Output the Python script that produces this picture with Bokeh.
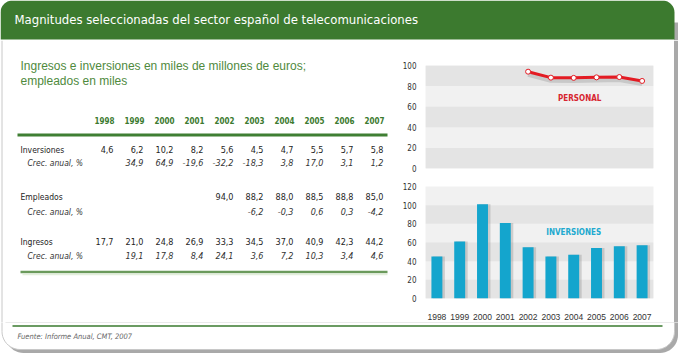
import numpy as np
from bokeh.plotting import figure
from bokeh.layouts import column, row
from bokeh.models import Range1d, FactorRange, ColumnDataSource, BoxAnnotation, FixedTicker
from bokeh.core.properties import value
from bokeh.transform import dodge
from bokeh.embed import file_html
from bokeh.resources import INLINE

# ---------------- data ----------------
years = ["1998", "1999", "2000", "2001", "2002", "2003", "2004", "2005", "2006", "2007"]
inversiones = [4.6, 6.2, 10.2, 8.2, 5.6, 4.5, 4.7, 5.5, 5.7, 5.8]
inversiones_crec = [None, 34.9, 64.9, -19.6, -32.2, -18.3, 3.8, 17.0, 3.1, 1.2]
empleados = [None, None, None, None, 94.0, 88.2, 88.0, 88.5, 88.8, 85.0]
empleados_crec = [None, None, None, None, None, -6.2, -0.3, 0.6, 0.3, -4.2]
ingresos = [17.7, 21.0, 24.8, 26.9, 33.3, 34.5, 37.0, 40.9, 42.3, 44.2]
ingresos_crec = [None, 19.1, 17.8, 8.4, 24.1, 3.6, 7.2, 10.3, 3.4, 4.6]

personal_years = ["2002", "2003", "2004", "2005", "2006", "2007"]
personal = [94.0, 88.2, 88.0, 88.5, 88.8, 85.0]
inversiones_chart = [45, 61, 101, 81, 55, 45, 47, 54, 56, 57]
personal_ticks = [0, 20, 40, 60, 80, 100]
inversiones_ticks = [0, 20, 40, 60, 80, 100, 120]

title_text = "Magnitudes seleccionadas del sector español de telecomunicaciones"
subtitle_lines = ["Ingresos e inversiones en miles de millones de euros;", "empleados en miles"]
row_labels = ["Inversiones", "Crec. anual, %", "Empleados", "Crec. anual, %", "Ingresos", "Crec. anual, %"]
row_values = [inversiones, inversiones_crec, empleados, empleados_crec, ingresos, ingresos_crec]
source_text = "Fuente: Informe Anual, CMT, 2007"

# ---------------- styles ----------------
NARROW = "DejaVu Sans Condensed, DejaVu Sans, sans-serif"
REG = "Liberation Sans, Arial, sans-serif"
GREEN = "#3c7a2f"
SHADOW = "#a9a9a9"


def fmt(v):
    return "" if v is None else f"{v:.1f}".replace(".", ",")


def canvas(x0, x1, y0, y1):
    p = figure(width=x1 - x0, height=y1 - y0, x_range=Range1d(x0, x1), y_range=Range1d(y1, y0),
               output_backend="svg", toolbar_location=None, min_border=0,
               x_axis_location=None, y_axis_location=None)
    p.grid.visible = False
    p.outline_line_color = None
    p.background_fill_color = "white"
    p.border_fill_color = "white"
    return p


def arc(cx, cy, r, a0, a1, n=12):
    t = np.radians(np.linspace(a0, a1, n))
    return list(cx + r * np.cos(t)), list(cy + r * np.sin(t))


# ---------------- title ----------------
title = canvas(0, 680, 0, 40)
title.quad(left=[673.5], right=[677.5], top=[22], bottom=[40], fill_color=SHADOW, line_color=None)
r = 12
ax1, ay1 = arc(0 + r, 0 + r, r, 180, 270)
ax2, ay2 = arc(674 - r, 0 + r, r, 270, 360)
title.patch(x=[0] + ax1 + ax2 + [674], y=[39] + ay1 + ay2 + [39], fill_color=GREEN, line_color=None)
title.text(x=[14], y=[19], text=[title_text], text_font=value(NARROW), text_font_size="13px",
           text_color="white", text_baseline="middle")

# ---------------- table ----------------
table = canvas(0, 396, 40, 322)
table.segment(x0=[1.5], x1=[1.5], y0=[40], y1=[322], line_color="#c8c8c8", line_width=1)
table.text(x=[20, 20], y=[65, 80], text=subtitle_lines, text_font=value(REG), text_font_size="12px",
           text_color="#4f8a3d", text_baseline="middle")
col_c = [104 + 30 * i for i in range(len(years))]
table.text(x=col_c, y=[120] * len(years), text=years, text_font=value(NARROW), text_font_size="8px",
           text_font_style="bold", text_color=GREEN, text_align="center", text_baseline="middle")
table.segment(x0=[17], x1=[387], y0=[134.5], y1=[134.5], line_color="#3f7f33", line_width=3)
row_y = [149, 162, 196, 211, 241, 255]
for k, (lab, vals) in enumerate(zip(row_labels, row_values)):
    italic = lab.startswith("Crec")
    table.text(x=[27 if italic else 20], y=[row_y[k]], text=[lab], text_font=value(NARROW),
               text_font_size="8.5px", text_font_style="italic" if italic else "normal",
               text_color="#333333" if italic else "#1e1e1e", text_baseline="middle")
    src = ColumnDataSource(dict(x=[c + 9 for c in col_c], y=[row_y[k]] * len(vals),
                                t=[fmt(v) for v in vals]))
    table.text(x="x", y="y", text="t", source=src, text_font=value(NARROW), text_font_size="9px",
               text_font_style="italic" if italic else "normal",
               text_color="#333333" if italic else "#1e1e1e", text_align="right", text_baseline="middle")
table.segment(x0=[20], x1=[387], y0=[271.5], y1=[271.5], line_color="#6b9a5c", line_width=2.5)
table.segment(x0=[22], x1=[387], y0=[274], y1=[274], line_color="#e3efdc", line_width=1.5)


# ---------------- charts ----------------
def chart(height, top, ticks, b_top, b_bottom, show_x):
    p = figure(width=276, height=height, x_range=FactorRange(*years), y_range=Range1d(0, top),
               output_backend="svg", toolbar_location=None,
               min_border_left=29, min_border_right=19, min_border_top=b_top, min_border_bottom=b_bottom,
               x_axis_location="below" if show_x else None, y_axis_location="left")
    p.outline_line_color = None
    p.grid.visible = False
    p.background_fill_color = "#f1f1f1"
    p.border_fill_color = "white"
    for i in range(len(ticks) - 1):
        if i % 2 == 0:
            p.add_layout(BoxAnnotation(bottom=ticks[i], top=ticks[i + 1], fill_color="#e4e4e4",
                                       fill_alpha=1, line_color=None, level="underlay"))
    ax = p.yaxis[0]
    ax.ticker = FixedTicker(ticks=ticks)
    ax.axis_line_color = None
    ax.major_tick_line_color = None
    ax.minor_tick_line_color = None
    ax.major_label_standoff = 3
    ax.major_label_text_font = NARROW
    ax.major_label_text_font_size = "8px"
    ax.major_label_text_color = "#333333"
    if show_x:
        xa = p.xaxis[0]
        xa.axis_line_color = None
        xa.major_tick_line_color = None
        xa.minor_tick_line_color = None
        xa.major_label_standoff = 9
        xa.major_label_text_font = REG
        xa.major_label_text_font_size = "8.5px"
        xa.major_label_text_color = "#333333"
    return p


top = chart(133, 100, personal_ticks, 25, 5, False)
psrc = ColumnDataSource(dict(x=personal_years, y=personal))
top.line(x="x", y=dodge("y", -2.5, range=top.y_range), source=psrc, line_color="black",
         line_alpha=0.12, line_width=5)
top.line(x="x", y="y", source=psrc, line_color="#e31b23", line_width=3)
top.scatter(x="x", y="y", source=psrc, size=5, fill_color="white", line_color="#e31b23", line_width=1)
top.text(x=["2004"], y=[68], text=["PERSONAL"], x_offset=6, text_font=value(NARROW),
         text_font_size="8px", text_font_style="bold", text_color="#d7252f",
         text_align="center", text_baseline="middle")

divider = canvas(396, 672, 173, 179)
divider.segment(x0=[408], x1=[653], y0=[175.5], y1=[175.5], line_color="#6f9a60",
                line_width=1, line_dash="1 2")

bottom = chart(143, 120, inversiones_ticks, 7, 21, True)
bsrc = ColumnDataSource(dict(x=years, y=inversiones_chart))
bottom.vbar(x=dodge("x", 0.09, range=bottom.x_range), top="y", source=bsrc, width=0.52,
            fill_color="#8c8c8c", fill_alpha=0.35, line_color=None)
bottom.vbar(x="x", top="y", source=bsrc, width=0.48, fill_color="#14a5cd", line_color=None)
bottom.text(x=["2004"], y=[71], text=["INVERSIONES"], text_font=value(NARROW),
            text_font_size="8px", text_font_style="bold", text_color="#21a9cf",
            text_align="center", text_baseline="middle")

# right shadow strip
shadow = canvas(672, 680, 40, 322)
shadow.quad(left=[673.5], right=[677.5], top=[40], bottom=[322], fill_color=SHADOW, line_color=None)

# ---------------- footer ----------------
footer = canvas(0, 680, 322, 355)
rr = 18


def card_bottom(x0, x1, y1, dx=0.0, dy=0.0):
    bx1, by1 = arc(x1 - rr + dx, y1 - rr + dy, rr, 0, 90)
    bx2, by2 = arc(x0 + rr + dx, y1 - rr + dy, rr, 90, 180)
    return [x1 + dx] + bx1 + bx2 + [x0 + dx], [300] + by1 + by2 + [300]


sx, sy = card_bottom(1.5, 674, 349, 3.5, 3.5)
footer.patch(x=sx, y=sy, fill_color=SHADOW, line_color=None)
cx, cy = card_bottom(1.5, 674, 349)
footer.patch(x=cx, y=cy, fill_color="white", line_color="#c8c8c8", line_width=1)
footer.segment(x0=[12], x1=[662], y0=[325.5], y1=[325.5], line_color="#3a7a2e", line_width=1.5)
footer.text(x=[17], y=[336], text=[source_text], text_font=value(NARROW), text_font_size="7.5px",
            text_font_style="italic", text_color="#666666", text_baseline="middle")

right = column(top, divider, bottom, spacing=0)
middle = row(table, right, shadow, spacing=0)
layout = column(title, middle, footer, spacing=0)

open("out.html", "w").write(file_html(layout, INLINE))
